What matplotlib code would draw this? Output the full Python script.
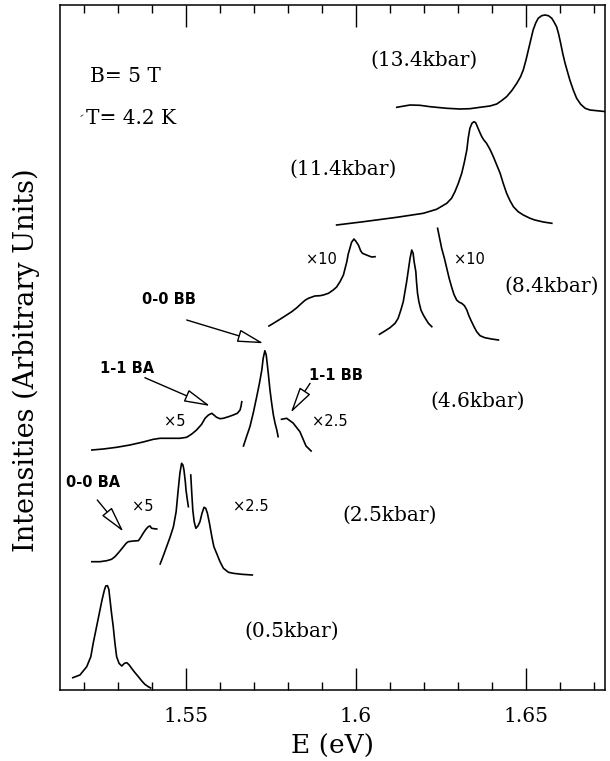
import matplotlib
matplotlib.use("Agg")
import matplotlib.pyplot as plt
from matplotlib.ticker import MultipleLocator

# ---------------- data (E in eV, intensity in arbitrary units incl. offset) -------------
E_05 = [1.5167, 1.5188, 1.5208, 1.5220, 1.5227, 1.5237, 1.5245, 1.5253, 1.5260, 1.5264,
        1.5269, 1.5273, 1.5276, 1.5281, 1.5286, 1.5291, 1.5296, 1.5303, 1.5311, 1.5319,
        1.5326, 1.5333, 1.5340, 1.5350, 1.5360, 1.5370, 1.5379, 1.5389, 1.5396]
I_05 = [0.123, 0.150, 0.233, 0.333, 0.467, 0.633, 0.767, 0.900, 1.000, 1.040,
        1.043, 1.007, 0.917, 0.767, 0.633, 0.467, 0.333, 0.267, 0.240, 0.267,
        0.273, 0.250, 0.217, 0.173, 0.133, 0.090, 0.057, 0.033, 0.020]

E_25a = [1.5223, 1.5247, 1.5267, 1.5281, 1.5291, 1.5304, 1.5316, 1.5324, 1.5330, 1.5345,
         1.5360, 1.5367, 1.5374, 1.5382, 1.5389, 1.5394, 1.5399, 1.5406, 1.5414]
I_25a = [1.283, 1.283, 1.293, 1.307, 1.333, 1.383, 1.433, 1.467, 1.483, 1.490,
         1.493, 1.527, 1.567, 1.607, 1.633, 1.640, 1.617, 1.613, 1.610]

E_25b = [1.5424, 1.5433, 1.5443, 1.5453, 1.5463, 1.5471, 1.5477, 1.5482, 1.5487, 1.5491,
         1.5494, 1.5498, 1.5500, 1.5504, 1.5507]
I_25b = [1.260, 1.340, 1.433, 1.527, 1.633, 1.783, 2.000, 2.167, 2.267, 2.250,
         2.200, 2.083, 2.000, 1.900, 1.833]

E_25c = [1.5514, 1.5517, 1.5520, 1.5524, 1.5529, 1.5535, 1.5541, 1.5547, 1.5553, 1.5558,
         1.5563, 1.5569, 1.5576, 1.5582, 1.5590, 1.5600, 1.5610, 1.5625, 1.5639, 1.5664,
         1.5695]
I_25c = [2.150, 1.967, 1.800, 1.683, 1.617, 1.640, 1.683, 1.767, 1.827, 1.817,
         1.767, 1.667, 1.533, 1.433, 1.367, 1.283, 1.217, 1.177, 1.167, 1.157,
         1.150]

E_46a = [1.5223, 1.5257, 1.5296, 1.5335, 1.5374, 1.5404, 1.5424, 1.5453, 1.5482, 1.5502,
         1.5517, 1.5531, 1.5546, 1.5556, 1.5566, 1.5576, 1.5582, 1.5590, 1.5600, 1.5610,
         1.5625, 1.5639, 1.5651, 1.5659, 1.5662, 1.5664]
I_46a = [2.400, 2.410, 2.427, 2.450, 2.480, 2.507, 2.517, 2.517, 2.517, 2.527,
         2.560, 2.600, 2.657, 2.717, 2.750, 2.767, 2.750, 2.727, 2.713, 2.717,
         2.733, 2.750, 2.767, 2.800, 2.840, 2.883]

E_46b = [1.5669, 1.5678, 1.5688, 1.5698, 1.5708, 1.5716, 1.5723, 1.5727, 1.5732, 1.5736,
         1.5742, 1.5747, 1.5752, 1.5757, 1.5762, 1.5767, 1.5771]
I_46b = [2.440, 2.533, 2.633, 2.773, 2.933, 3.067, 3.200, 3.317, 3.393, 3.350,
         3.167, 3.000, 2.867, 2.750, 2.667, 2.600, 2.533]

E_46c = [1.5781, 1.5796, 1.5815, 1.5835, 1.5853, 1.5868]
I_46c = [2.707, 2.717, 2.670, 2.583, 2.440, 2.390]

E_84a = [1.5744, 1.5762, 1.5781, 1.5796, 1.5811, 1.5826, 1.5840, 1.5850, 1.5860, 1.5879,
         1.5894, 1.5904, 1.5919, 1.5933, 1.5943, 1.5953, 1.5963, 1.5968, 1.5973, 1.5977,
         1.5982, 1.5987, 1.5994, 1.5999, 1.6007, 1.6014, 1.6019, 1.6026, 1.6036, 1.6046,
         1.6056]
I_84a = [3.640, 3.677, 3.717, 3.750, 3.783, 3.823, 3.867, 3.897, 3.917, 3.940,
         3.943, 3.950, 3.967, 4.000, 4.030, 4.083, 4.150, 4.217, 4.283, 4.357,
         4.417, 4.477, 4.510, 4.490, 4.450, 4.390, 4.367, 4.357, 4.343, 4.330,
         4.333]

E_84b = [1.6069, 1.6085, 1.6100, 1.6115, 1.6124, 1.6132, 1.6139, 1.6144, 1.6149, 1.6154,
         1.6159, 1.6164, 1.6168, 1.6171, 1.6176, 1.6178, 1.6181, 1.6185, 1.6191, 1.6198,
         1.6205, 1.6213, 1.6223]
I_84b = [3.557, 3.590, 3.623, 3.667, 3.717, 3.800, 3.883, 3.983, 4.083, 4.200,
         4.317, 4.400, 4.367, 4.283, 4.183, 4.083, 3.967, 3.883, 3.800, 3.750,
         3.710, 3.667, 3.633]

E_84c = [1.6240, 1.6247, 1.6252, 1.6260, 1.6267, 1.6274, 1.6281, 1.6288, 1.6296, 1.6304,
         1.6311, 1.6319, 1.6326, 1.6332, 1.6340, 1.6348, 1.6355, 1.6365, 1.6379, 1.6399,
         1.6419]
I_84c = [4.617, 4.500, 4.417, 4.317, 4.217, 4.117, 4.033, 3.957, 3.900, 3.877,
         3.867, 3.843, 3.800, 3.743, 3.683, 3.627, 3.583, 3.543, 3.523, 3.510,
         3.500]

E_114 = [1.5943, 1.6022, 1.6120, 1.6198, 1.6237, 1.6267, 1.6281, 1.6291, 1.6301, 1.6311,
         1.6318, 1.6326, 1.6330, 1.6335, 1.6341, 1.6347, 1.6352, 1.6355, 1.6362, 1.6370,
         1.6376, 1.6384, 1.6394, 1.6404, 1.6414, 1.6424, 1.6433, 1.6443, 1.6453, 1.6463,
         1.6477, 1.6492, 1.6512, 1.6526, 1.6551, 1.6576]
I_114 = [4.650, 4.683, 4.727, 4.767, 4.807, 4.867, 4.917, 4.983, 5.067, 5.167,
         5.267, 5.400, 5.517, 5.617, 5.667, 5.683, 5.673, 5.650, 5.593, 5.533,
         5.500, 5.467, 5.407, 5.333, 5.250, 5.167, 5.067, 4.967, 4.893, 4.833,
         4.783, 4.750, 4.717, 4.700, 4.680, 4.667]

E_134 = [1.6120, 1.6159, 1.6188, 1.6218, 1.6267, 1.6306, 1.6335, 1.6365, 1.6394, 1.6414,
         1.6428, 1.6443, 1.6458, 1.6473, 1.6484, 1.6492, 1.6500, 1.6507, 1.6514, 1.6521,
         1.6529, 1.6536, 1.6546, 1.6556, 1.6566, 1.6576, 1.6582, 1.6590, 1.6596, 1.6602,
         1.6608, 1.6615, 1.6622, 1.6629, 1.6639, 1.6649, 1.6661, 1.6674, 1.6688, 1.6708,
         1.6737]
I_134 = [5.827, 5.850, 5.847, 5.833, 5.817, 5.810, 5.813, 5.827, 5.840, 5.860,
         5.893, 5.933, 5.993, 6.067, 6.133, 6.200, 6.300, 6.400, 6.500, 6.600,
         6.673, 6.717, 6.743, 6.750, 6.743, 6.717, 6.683, 6.633, 6.560, 6.467,
         6.367, 6.267, 6.183, 6.100, 6.000, 5.917, 5.857, 5.817, 5.800, 5.793,
         5.783]

segments = [(E_05, I_05), (E_25a, I_25a), (E_25b, I_25b), (E_25c, I_25c),
            (E_46a, I_46a), (E_46b, I_46b), (E_46c, I_46c),
            (E_84a, I_84a), (E_84b, I_84b), (E_84c, I_84c),
            (E_114, I_114), (E_134, I_134)]

x_ticks = [1.55, 1.6, 1.65]
x_tick_labels = ["1.55", "1.6", "1.65"]

pressure_labels = ["(0.5kbar)", "(2.5kbar)", "(4.6kbar)", "(8.4kbar)", "(11.4kbar)", "(13.4kbar)"]
pressure_pos = [(1.5810, 0.583), (1.6099, 1.75), (1.6359, 2.883), (1.6574, 4.04),
                (1.5962, 5.21), (1.6200, 6.30)]

factor_labels = ["×5", "×2.5", "×5", "×2.5", "×10", "×10"]
factor_pos = [(1.5374, 1.833), (1.5690, 1.833), (1.5466, 2.683), (1.5924, 2.683),
              (1.5897, 4.30), (1.6335, 4.30)]

peak_labels = ["0-0 BA", "1-1 BA", "0-0 BB", "1-1 BB"]
peak_text_pos = [(1.5226, 2.07), (1.5328, 3.21), (1.5449, 3.907), (1.5940, 3.143)]
arrow_start = [(1.5239, 1.900), (1.5379, 3.123), (1.5502, 3.700), (1.5865, 3.067)]
arrow_tip = [(1.5316, 1.583), (1.5571, 2.840), (1.5728, 3.467), (1.5808, 2.773)]

# ---------------- figure -------------
fig = plt.figure(figsize=(6.10, 7.61), dpi=100)
ax = fig.add_axes([60 / 610, 1 - 690 / 761, 545 / 610, 685 / 761])
ax.set_xlim(1.51294, 1.67324)
ax.set_ylim(0, 6.85)

for E, I in segments:
    ax.plot(E, I, color="black", lw=1.2, clip_on=True, solid_joinstyle="round")

serif = "DejaVu Serif"
for t, (x, y) in zip(pressure_labels, pressure_pos):
    ax.text(x, y, t, ha="center", va="center", fontsize=14.5, family=serif)

for t, (x, y) in zip(factor_labels, factor_pos):
    ax.text(x, y, t, ha="center", va="center", fontsize=10.5, family="DejaVu Sans")

for t, (x, y) in zip(peak_labels, peak_text_pos):
    ax.text(x, y, t, ha="center", va="center", fontsize=10.5, family="DejaVu Sans",
            weight="bold")

for s, tip in zip(arrow_start, arrow_tip):
    ax.annotate("", xy=tip, xytext=s,
                arrowprops=dict(arrowstyle="-|>,head_length=0.9,head_width=0.22",
                                fc="white", ec="black", lw=1.0, mutation_scale=18,
                                shrinkA=0, shrinkB=0))

ax.text(1.5218, 6.13, "B= 5 T", ha="left", va="center", fontsize=14.5, family=serif)
ax.text(1.5206, 5.72, "T= 4.2 K", ha="left", va="center", fontsize=14.5, family=serif)
ax.text(1.5195, 5.74, "-", ha="center", va="center", fontsize=9, family=serif, rotation=35)

ax.set_xticks(x_ticks)
ax.set_xticklabels(x_tick_labels, fontsize=14.5, family=serif)
ax.xaxis.set_minor_locator(MultipleLocator(0.01))
ax.tick_params(axis="x", which="major", direction="in", length=16, width=1.0,
               top=True, bottom=True, pad=12)
ax.tick_params(axis="x", which="minor", direction="in", length=5.5, width=1.0,
               top=True, bottom=True)
ax.set_yticks([])
for sp in ax.spines.values():
    sp.set_linewidth(1.1)

ax.set_xlabel("E (eV)", fontsize=19, family=serif, labelpad=6)
ax.set_ylabel("Intensities (Arbitrary Units)", fontsize=19.5, family=serif)
ax.yaxis.set_label_coords(-0.036, 0.482)

fig.savefig("out.png", dpi=100)
